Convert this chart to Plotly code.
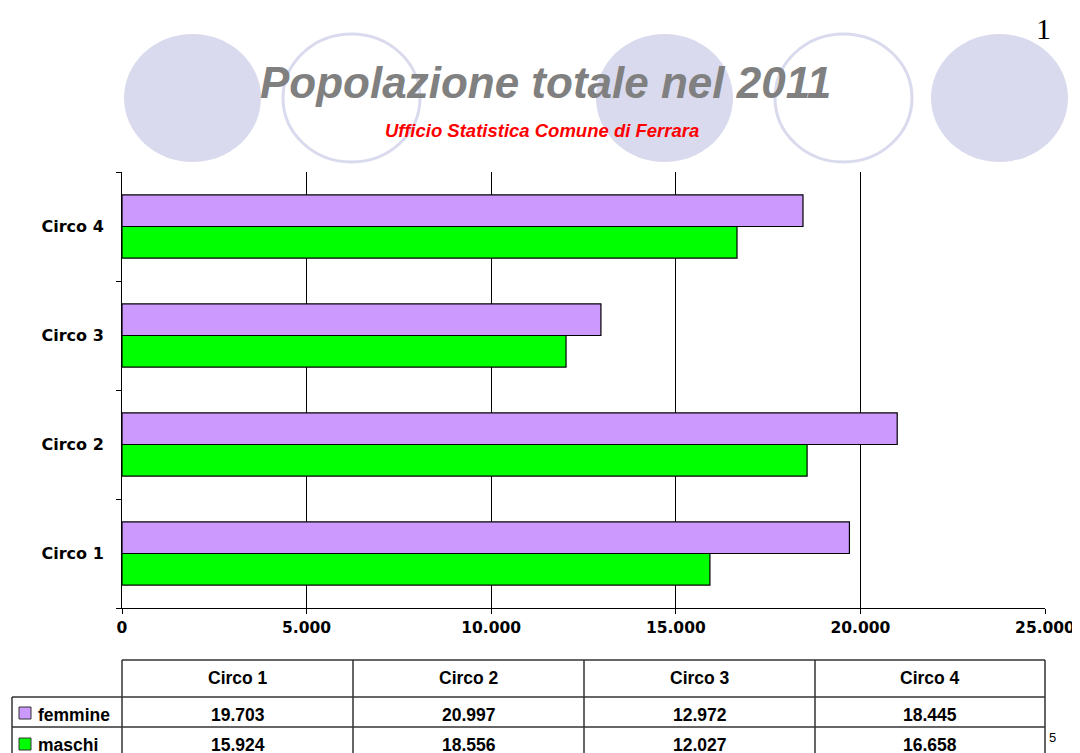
import plotly.graph_objects as go

# ---- data ----
categories = ["Circo 1", "Circo 2", "Circo 3", "Circo 4"]
femmine = [19703, 20997, 12972, 18445]
maschi = [15924, 18556, 12027, 16658]
series_names = ["femmine", "maschi"]
x_ticks = [0, 5000, 10000, 15000, 20000, 25000]
x_tick_labels = ["0", "5.000", "10.000", "15.000", "20.000", "25.000"]
title_text = "Popolazione totale nel 2011"
subtitle_text = "Ufficio Statistica Comune di Ferrara"

W, H = 1080, 753
OFF = 8  # page body margin
L, R, T, B = 122, 1045, 172, 608  # plot area in reference pixels


def px(x):
    return (x - L) / (R - L)


def py(y):
    return (B - y) / (B - T)


COL_F = "#CC99FF"
COL_M = "#00FF00"
ELL = "#DADAEE"

fig = go.Figure()
fig.add_trace(go.Bar(y=categories, x=maschi, name=series_names[1], orientation="h",
                     marker=dict(color=COL_M, line=dict(color="black", width=1.2))))
fig.add_trace(go.Bar(y=categories, x=femmine, name=series_names[0], orientation="h",
                     marker=dict(color=COL_F, line=dict(color="black", width=1.2))))

shapes = []
# decorative ellipses
ellipses = [(124, 261, True), (283, 420, False), (596, 733, True), (775, 912, False), (931, 1068, True)]
for x0, x1, filled in ellipses:
    shapes.append(dict(type="circle", xref="paper", yref="paper", layer="below",
                       x0=px(x0), x1=px(x1), y0=py(162), y1=py(34),
                       fillcolor=ELL if filled else "rgba(0,0,0,0)",
                       line=dict(color=ELL, width=0 if filled else 3)))

# table lines
LC = "#333333"
lw = 1.5
col_edges = [122, 353, 584, 815, 1045]
table_top, row1, row2, table_bot = 660, 697, 727, 770
shapes.append(dict(type="line", xref="paper", yref="paper", x0=px(122), x1=px(1045),
                   y0=py(table_top), y1=py(table_top), line=dict(color=LC, width=lw)))
for yy in (row1, row2):
    shapes.append(dict(type="line", xref="paper", yref="paper", x0=px(12), x1=px(1045),
                       y0=py(yy), y1=py(yy), line=dict(color=LC, width=lw)))
for xx in col_edges:
    shapes.append(dict(type="line", xref="paper", yref="paper", x0=px(xx), x1=px(xx),
                       y0=py(table_top), y1=py(table_bot), line=dict(color=LC, width=lw)))
shapes.append(dict(type="line", xref="paper", yref="paper", x0=px(12), x1=px(12),
                   y0=py(row1), y1=py(table_bot), line=dict(color=LC, width=lw)))
# legend swatches
for yc, col in ((713, COL_F), (744, COL_M)):
    shapes.append(dict(type="rect", xref="paper", yref="paper", x0=px(19), x1=px(31),
                       y0=py(yc + 6), y1=py(yc - 6), fillcolor=col,
                       line=dict(color="#333333", width=1)))

annotations = []
annotations.append(dict(text="<b><i>" + title_text + "</i></b>", xref="paper", yref="paper",
                        x=px(545), y=py(82), showarrow=False, xanchor="center", yanchor="middle",
                        font=dict(family="Liberation Sans", size=44, color="#808080")))
annotations.append(dict(text="<b><i>" + subtitle_text + "</i></b>", xref="paper", yref="paper",
                        x=px(542), y=py(131), showarrow=False, xanchor="center", yanchor="middle",
                        font=dict(family="Liberation Sans", size=18.5, color="#FF0000")))
annotations.append(dict(text="1", xref="paper", yref="paper", x=px(1043), y=py(28),
                        showarrow=False, xanchor="center", yanchor="middle",
                        font=dict(family="Liberation Serif", size=30, color="black")))
annotations.append(dict(text="5", xref="paper", yref="paper", x=px(1052), y=py(737),
                        showarrow=False, xanchor="center", yanchor="middle",
                        font=dict(family="Liberation Sans", size=13, color="black")))


def fmt(v):
    return f"{v:,}".replace(",", ".")


tf = dict(family="Liberation Sans", size=17.5, color="black")
for i, cat in enumerate(categories):
    xc = (col_edges[i] + col_edges[i + 1]) / 2
    annotations.append(dict(text="<b>" + cat + "</b>", xref="paper", yref="paper", x=px(xc), y=py(678),
                            showarrow=False, xanchor="center", yanchor="middle", font=tf))
    annotations.append(dict(text="<b>" + fmt(femmine[i]) + "</b>", xref="paper", yref="paper", x=px(xc),
                            y=py(715), showarrow=False, xanchor="center", yanchor="middle", font=tf))
    annotations.append(dict(text="<b>" + fmt(maschi[i]) + "</b>", xref="paper", yref="paper", x=px(xc),
                            y=py(745), showarrow=False, xanchor="center", yanchor="middle", font=tf))
annotations.append(dict(text="<b>" + series_names[0] + "</b>", xref="paper", yref="paper", x=px(36), y=py(715),
                        showarrow=False, xanchor="left", yanchor="middle", font=tf))
annotations.append(dict(text="<b>" + series_names[1] + "</b>", xref="paper", yref="paper", x=px(36), y=py(745),
                        showarrow=False, xanchor="left", yanchor="middle", font=tf))

fig.update_layout(
    width=W, height=H, autosize=False,
    margin=dict(l=L - OFF, r=W - (R - OFF), t=T - OFF, b=H - (B - OFF), pad=0),
    paper_bgcolor="white", plot_bgcolor="white",
    barmode="group", bargap=0.42, bargroupgap=0,
    showlegend=False,
    separators=",.",
    shapes=shapes, annotations=annotations,
    xaxis=dict(range=[0, 25000], tickvals=x_ticks, ticktext=["<b>" + t + "</b>" for t in x_tick_labels],
               showgrid=True, gridcolor="black", gridwidth=1, zeroline=False,
               showline=True, linecolor="black", linewidth=1,
               ticks="outside", ticklen=5, tickcolor="black",
               tickfont=dict(family="DejaVu Sans", size=15.5, color="black")),
    yaxis=dict(type="category", categoryorder="array", categoryarray=categories,
               showline=True, linecolor="black", linewidth=1, showgrid=False,
               ticks="outside", ticklen=5, tickcolor="black", tickson="boundaries",
               ticklabelstandoff=14,
               tickfont=dict(family="DejaVu Sans", size=16, color="black"),
               tickvals=categories, ticktext=["<b>" + c + "</b>" for c in categories]),
)

fig.write_html("out.html")
